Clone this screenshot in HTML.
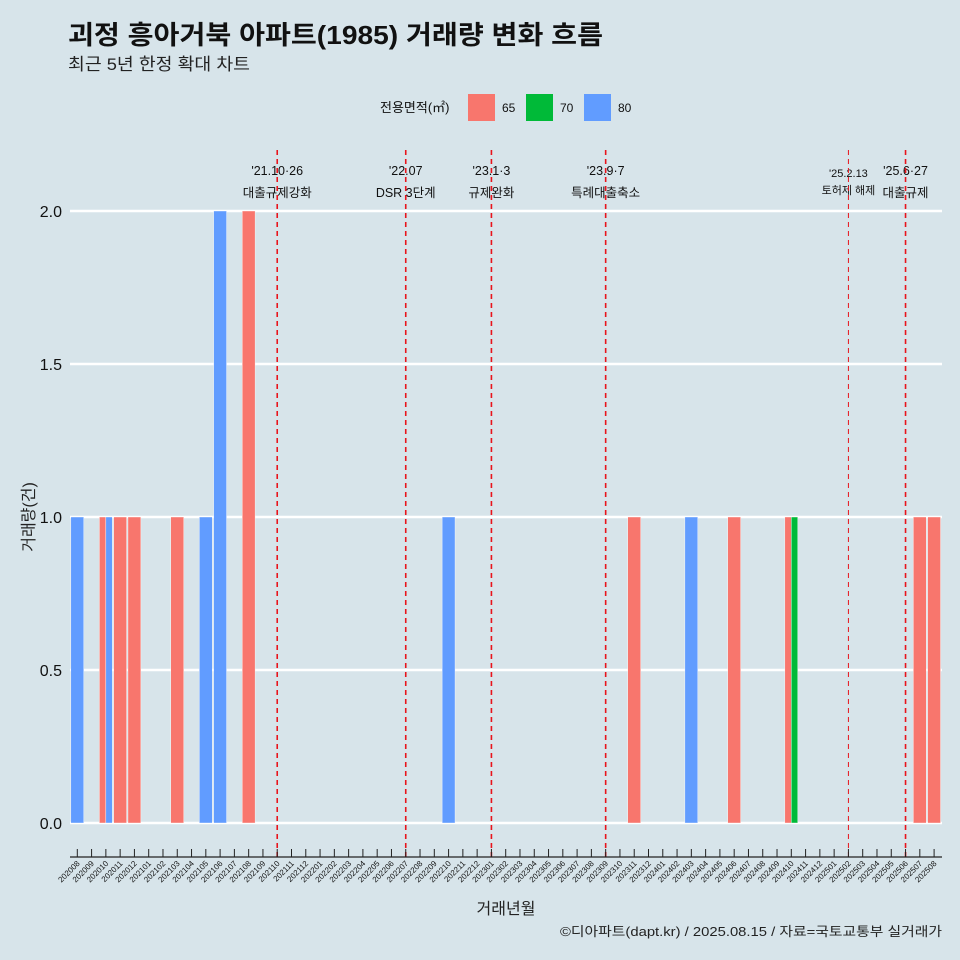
<!DOCTYPE html>
<html><head><meta charset="utf-8"><style>
body{margin:0;background:#d7e4ea;}
svg{display:block;font-family:"Liberation Sans","Noto Sans CJK KR",sans-serif;}
</style></head><body>
<svg id="c" width="960" height="960" xmlns="http://www.w3.org/2000/svg">
<rect width="960" height="960" fill="#d7e4ea"/>
<text x="68" y="44" font-size="26" font-weight="bold" fill="#111" textLength="535" lengthAdjust="spacingAndGlyphs">괴정 흥아거북 아파트(1985) 거래량 변화 흐름</text>
<text x="68" y="70" font-size="17" fill="#222" textLength="182" lengthAdjust="spacingAndGlyphs">최근 5년 한정 확대 차트</text>
<g>
<text x="380" y="112" font-size="13" fill="#111">전용면적(㎡)</text>
<rect x="468" y="94" width="27" height="27" fill="#f8766d"/>
<text x="502" y="112" font-size="12" fill="#111">65</text>
<rect x="526" y="94" width="27" height="27" fill="#00ba38"/>
<text x="560" y="112" font-size="12" fill="#111">70</text>
<rect x="584" y="94" width="27" height="27" fill="#619cff"/>
<text x="618" y="112" font-size="12" fill="#111">80</text>
</g>
<g id="grid"></g><g id="ann"></g><g id="bars"></g><g id="vl"></g><g id="axes"></g>
<text x="34" y="517" font-size="16" fill="#222" transform="rotate(-90 34 517)" text-anchor="middle">거래량(건)</text>
<text x="506" y="914" font-size="16" fill="#222" text-anchor="middle">거래년월</text>
<text x="942" y="936" font-size="13" fill="#222" text-anchor="end" textLength="382" lengthAdjust="spacingAndGlyphs">©디아파트(dapt.kr) / 2025.08.15 / 자료=국토교통부 실거래가</text>
</svg>
<script>
const months=[];for(let y=2020;y<=2025;y++)for(let m=1;m<=12;m++){const k=y*100+m;if(k>=202008&&k<=202508)months.push(String(k));}
const barMonths=["202008","202010","202010","202011","202012","202103","202105","202106","202108","202210","202311","202403","202406","202410","202410","202507","202508"];
const barSizes=["80","65","80","65","65","65","80","80","65","80","65","80","65","65","70","65","65"];
const barCounts=[1,1,1,1,1,1,1,2,2,1,1,1,1,1,1,1,1];
const yTicks=[0,0.5,1,1.5,2];
const yTickLabels=["0.0","0.5","1.0","1.5","2.0"];
const eventMonths=["202110","202207","202301","202309","202502","202506"];
const eventDates=["'21.10·26","'22.07","'23.1·3","'23.9·7","'25.2.13","'25.6·27"];
const eventNames=["대출규제강화","DSR 3단계","규제완화","특례대출축소","토허제 해제","대출규제"];
const colors={"65":"#f8766d","70":"#00ba38","80":"#619cff"};
const NS="http://www.w3.org/2000/svg";
const x0=77.3,step=14.28,y0=823,ppu=306,bw=12.9;
const X=m=>x0+months.indexOf(m)*step;
const Y=v=>y0-v*ppu;
function el(t,a,p){const e=document.createElementNS(NS,t);for(const k in a)e.setAttribute(k,a[k]);document.getElementById(p).appendChild(e);return e;}
yTicks.forEach((v,i)=>{
 const l=el('line',{x1:70,x2:942,y1:Y(v),y2:Y(v),stroke:'#fff','stroke-width':2.4},'grid');
 
 
 const t=el('text',{x:62,y:Y(v)+6,'font-size':16,'text-anchor':'end',fill:'#111'},'axes');t.textContent=yTickLabels[i];
 
 
});
el('line',{x1:70,x2:942,y1:857,y2:857,stroke:'#222','stroke-width':1.2},'axes');
months.forEach(m=>{
 const x=X(m);
 el('line',{x1:x,x2:x,y1:849,y2:857,stroke:'#222','stroke-width':1},'axes');
 const t=el('text',{x:x+3,y:864,'font-size':8,'text-anchor':'end',fill:'#111',transform:`rotate(-45 ${x+3} 864)`},'axes');t.textContent=m;
 
 
});
const groupCount={};barMonths.forEach(m=>groupCount[m]=(groupCount[m]||0)+1);
const seen={};
barMonths.forEach((m,i)=>{
 const n=groupCount[m],k=seen[m]||0;seen[m]=k+1;
 const w=bw/n;const x=X(m)-bw/2+k*w;
 const r=el('rect',{x:x,y:Y(barCounts[i]),width:w,height:barCounts[i]*ppu,fill:colors[barSizes[i]],stroke:'#fff','stroke-width':0.4},'bars');
 
 
});
eventMonths.forEach((m,i)=>{
 const x=X(m);const small=(i==4);
 const l=el('line',{x1:x,x2:x,y1:150,y2:857,stroke:'#e8141c','stroke-width':small?1:1.6,'stroke-dasharray':'5,4'},'vl');
 
 
 const fs=small?11:12.5;
 const a=el('text',{x:x,y:small?177:175,'font-size':fs,'text-anchor':'middle',fill:'#111'},'ann');a.textContent=eventDates[i];
 
 
 const b=el('text',{x:x,y:small?194:197,'font-size':fs,'text-anchor':'middle',fill:'#111'},'ann');b.textContent=eventNames[i];
 
 
});
</script>
</body></html>
